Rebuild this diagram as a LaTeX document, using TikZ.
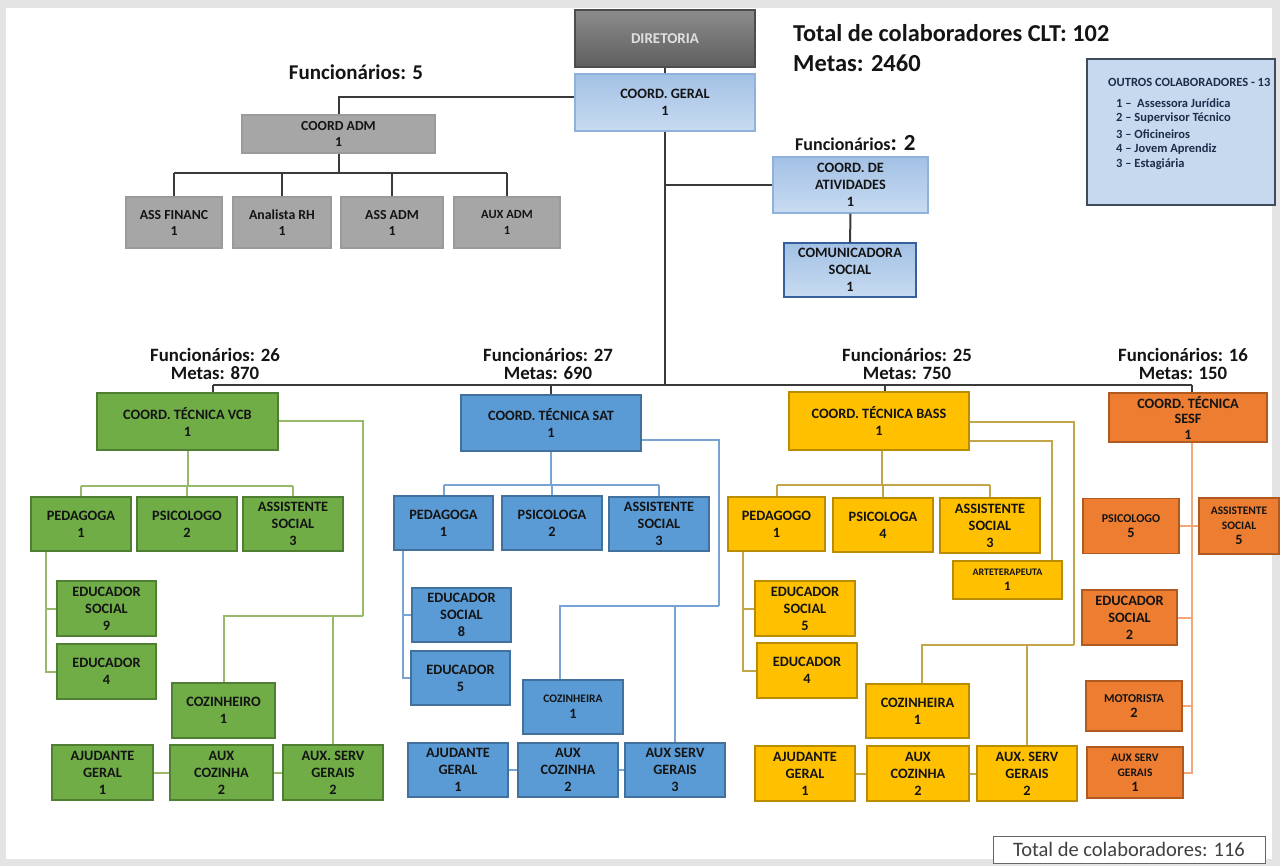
\documentclass[tikz,border=0pt]{standalone}
\usepackage{fontspec}
\setmainfont{Carlito}
\usetikzlibrary{calc}
\definecolor{bgout}{HTML}{E4E4E4}
\definecolor{grnf}{HTML}{70AD47}\definecolor{grnd}{HTML}{507E32}
\definecolor{bluf}{HTML}{5B9BD5}\definecolor{blud}{HTML}{41719C}
\definecolor{yelf}{HTML}{FFC000}\definecolor{yeld}{HTML}{BC8C00}
\definecolor{orgf}{HTML}{ED7D31}\definecolor{orgd}{HTML}{AE5A21}
\definecolor{gryf}{HTML}{A6A6A6}\definecolor{gryd}{HTML}{9A9A9A}
\definecolor{lbt}{HTML}{A3C1E5}\definecolor{lbb}{HTML}{C8DBF1}
\definecolor{lbd}{HTML}{8FB1DB}\definecolor{comd}{HTML}{35609C}
\definecolor{dirt}{HTML}{8C8C8C}\definecolor{dirb}{HTML}{5E5E5E}\definecolor{dird}{HTML}{4D4D4D}
\definecolor{outf}{HTML}{C6D9EF}\definecolor{outd}{HTML}{3F4A5C}
\definecolor{tx}{HTML}{141414}
\definecolor{kl}{HTML}{3A3A3A}
\definecolor{gl}{HTML}{98B86A}\definecolor{bl}{HTML}{78A4D4}
\definecolor{yl}{HTML}{C4A64A}\definecolor{ol}{HTML}{F2A77A}
\definecolor{navy}{HTML}{1F2D4A}
\tikzset{
  box/.style 2 args={minimum width=#1pt, minimum height=#2pt, inner sep=0pt, align=center,
    line width=1.2pt, text=tx, font=\bfseries\fontsize{14.3}{17}\selectfont},
  grn/.style={draw=grnd, fill=grnf},
  blu/.style={draw=blud, fill=bluf},
  yel/.style={draw=yeld, fill=yelf},
  org/.style={draw=orgd, fill=orgf},
  gry/.style={draw=gryd, fill=gryf, font=\bfseries\fontsize{13.8}{16}\selectfont},
  lblue/.style={draw=lbd, top color=lbt, bottom color=lbb},
  sm/.style={font=\bfseries\fontsize{12}{15}\selectfont},
  hdr/.style={inner sep=0pt, align=center, text=tx, font=\bfseries\fontsize{18.8}{18}\selectfont},
  kline/.style={draw=kl, line width=2pt},
  gline/.style={draw=gl, line width=2pt},
  bline/.style={draw=bl, line width=2pt},
  yline/.style={draw=yl, line width=2pt},
  oline/.style={draw=ol, line width=2pt},
  otxt/.style={inner sep=0pt, anchor=west, text=navy, font=\bfseries\fontsize{12.5}{14}\selectfont}
}
\begin{document}
\begin{tikzpicture}[x=1pt,y=-1pt]
\useasboundingbox (0,0) rectangle (1280,866);
\fill[bgout] (0,0) rectangle (1280,866);
\fill[white] (6,8) rectangle (1272,859);

% ---------- top ----------
\node[box={180}{57}, draw=dird, top color=dirt, bottom color=dirb, text=white!88!black, font=\bfseries\fontsize{15}{17}\selectfont] (dir) at (665,38.5) {DIRETORIA};
\node[box={180}{57}, lblue] (geral) at (665,102.5) {COORD. GERAL\\1};
\node[box={193}{38}, gry] (adm) at (338.5,134) {COORD ADM\\1};
\node[box={96}{51}, gry] (fin) at (174,222.5) {ASS FINANC\\1};
\node[box={98}{51}, gry] (rh) at (282,222.5) {Analista RH\\1};
\node[box={102}{51}, gry] (assadm) at (392,222.5) {ASS ADM\\1};
\node[box={106}{51}, gry, font=\bfseries\fontsize{12.5}{16}\selectfont] (auxadm) at (507,222.5) {AUX ADM\\1};
\node[box={155}{56}, lblue] (ativ) at (850.5,185) {COORD. DE\\ATIVIDADES\\1};
\node[box={132}{54}, draw=comd, top color=lbt, bottom color=lbb] (comm) at (850,270) {COMUNICADORA\\SOCIAL\\1};

\node[inner sep=0pt, text=tx, font=\bfseries\fontsize{21}{21}\selectfont] (f5) at (356,72) {Funcionários: 5};
\node[inner sep=0pt, anchor=west, text=tx, font=\bfseries\fontsize{24.3}{24}\selectfont] (clt) at (793,33) {Total de colaboradores CLT: 102};
\node[inner sep=0pt, anchor=west, text=tx, font=\bfseries\fontsize{24.5}{24}\selectfont] (metas) at (793,63) {Metas: 2460};
\node[inner sep=0pt, anchor=west, text=tx, font=\bfseries\fontsize{18}{18}\selectfont] (f2) at (795,143) {Funcionários{\fontsize{23}{23}\selectfont: 2}};

\node[box={188}{146}, draw=outd, fill=outf, line width=1.4pt] (outros) at (1181,132) {};
\node[otxt] (ot0) at (1108,82) {OUTROS COLABORADORES - 13};
\node[otxt] (ot1) at (1116,103) {1 –\ \ Assessora Jurídica};
\node[otxt] (ot2) at (1116,118) {2 – Supervisor Técnico};
\node[otxt] (ot3) at (1116,134) {3 – Oficineiros};
\node[otxt] (ot4) at (1116,149) {4 – Jovem Aprendiz};
\node[otxt] (ot5) at (1116,164) {3 – Estagiária};

\node[box={272}{27}, draw=black!60, fill=white, line width=1pt, text=black!75, font=\fontsize{20.5}{22}\selectfont] (tot) at (1129,849.5) {Total de colaboradores: 116};

% ---------- headers ----------
\node[hdr] (h1) at (215,364) {Funcionários: 26\\Metas: 870};
\node[hdr] (h2) at (548,364) {Funcionários: 27\\Metas: 690};
\node[hdr] (h3) at (907,364) {Funcionários: 25\\Metas: 750};
\node[hdr] (h4) at (1183,364) {Funcionários: 16\\Metas: 150};

% ---------- green ----------
\node[box={181}{57}, grn] (vcb) at (187.5,421.5) {COORD. TÉCNICA VCB\\1};
\node[box={100}{54}, grn] (gped) at (81,524) {PEDAGOGA\\1};
\node[box={100}{54}, grn] (gpsi) at (187,524) {PSICOLOGO\\2};
\node[box={100}{54}, grn] (gass) at (293,524) {ASSISTENTE\\SOCIAL\\3};
\node[box={99}{55}, grn] (gedus) at (106.5,608.5) {EDUCADOR\\SOCIAL\\9};
\node[box={99}{55}, grn] (gedu) at (106.5,671.5) {EDUCADOR\\4};
\node[box={103}{55}, grn] (gcoz) at (223.5,710.5) {COZINHEIRO\\1};
\node[box={101}{55}, grn] (gaju) at (102.5,772.5) {AJUDANTE\\GERAL\\1};
\node[box={103}{55}, grn] (gauxc) at (221.5,772.5) {AUX\\COZINHA\\2};
\node[box={100}{55}, grn] (gserv) at (333,772.5) {AUX. SERV\\GERAIS\\2};

% ---------- blue ----------
\node[box={180}{56}, blu] (sat) at (551,423) {COORD. TÉCNICA SAT\\1};
\node[box={99}{54}, blu] (bped) at (443.5,523) {PEDAGOGA\\1};
\node[box={100}{54}, blu] (bpsi) at (552,523) {PSICOLOGA\\2};
\node[box={100}{54}, blu] (bass) at (659,524) {ASSISTENTE\\SOCIAL\\3};
\node[box={99}{54}, blu] (bedus) at (461.5,615) {EDUCADOR\\SOCIAL\\8};
\node[box={99}{54}, blu] (bedu) at (460.5,678) {EDUCADOR\\5};
\node[box={100}{54}, blu, font=\bfseries\fontsize{11.5}{16}\selectfont] (bcoz) at (573,707) {COZINHEIRA\\\fontsize{14.3}{16}\selectfont 1};
\node[box={100}{54}, blu] (baju) at (458,770) {AJUDANTE\\GERAL\\1};
\node[box={100}{54}, blu] (bauxc) at (568,770) {AUX\\COZINHA\\2};
\node[box={100}{54}, blu] (bserv) at (675,770) {AUX SERV\\GERAIS\\3};

% ---------- yellow ----------
\node[box={180}{58}, yel] (ybass) at (879,421) {COORD. TÉCNICA BASS\\1};
\node[box={97}{54}, yel] (yped) at (776.5,524) {PEDAGOGO\\1};
\node[box={100}{54}, yel] (ypsi) at (883,525) {PSICOLOGA\\4};
\node[box={100}{55}, yel] (yass) at (990,525.5) {ASSISTENTE\\SOCIAL\\3};
\node[box={109}{38}, yel, font=\bfseries\fontsize{10}{15}\selectfont] (yart) at (1007.5,580) {ARTETERAPEUTA\\\fontsize{13}{15}\selectfont 1};
\node[box={100}{55}, yel] (yedus) at (805,608.5) {EDUCADOR\\SOCIAL\\5};
\node[box={100}{55}, yel] (yedu) at (807,670.5) {EDUCADOR\\4};
\node[box={103}{54}, yel] (ycoz) at (917.5,711) {COZINHEIRA\\1};
\node[box={100}{55}, yel] (yaju) at (805,773.5) {AJUDANTE\\GERAL\\1};
\node[box={102}{55}, yel] (yauxc) at (918,773.5) {AUX\\COZINHA\\2};
\node[box={100}{55}, yel] (yserv) at (1027,773.5) {AUX. SERV\\GERAIS\\2};

% ---------- orange ----------
\node[box={158}{49}, org, font=\bfseries\fontsize{14.3}{15.5}\selectfont] (sesf) at (1188,417.5) {COORD. TÉCNICA\\SESF\\1};
\node[box={96}{55}, org, sm] (opsi) at (1131,526) {PSICOLOGO\\\fontsize{14.3}{16}\selectfont 5};
\node[box={80}{56}, org, font=\bfseries\fontsize{11.5}{15}\selectfont] (oass) at (1239,526) {ASSISTENTE\\SOCIAL\\\fontsize{14.3}{15}\selectfont 5};
\node[box={95}{55}, org] (oedus) at (1129.5,617.5) {EDUCADOR\\SOCIAL\\2};
\node[box={96}{50}, org, sm] (omot) at (1134,706) {MOTORISTA\\\fontsize{14.3}{16}\selectfont 2};
\node[box={96}{51}, org, font=\bfseries\fontsize{11.5}{15}\selectfont] (oserv) at (1135,772.5) {AUX SERV\\GERAIS\\\fontsize{14.3}{15}\selectfont 1};

% ---------- top connectors ----------
\coordinate (busy) at (0,385);
\draw[kline] (dir) -- (geral);
\draw[kline] ([yshift=5.5pt]geral.west) -| (adm.north);
\draw[kline] (adm.south) -- ++(0,19) coordinate (admbus);
\draw[kline] (fin.north |- admbus) -- (auxadm.north |- admbus);
\foreach \n in {fin,rh,assadm,auxadm} \draw[kline] (\n.north) -- (\n.north |- admbus);
\draw[kline] (geral.south) -- (geral.south |- busy);
\draw[kline] (ativ.west) -- (ativ.west -| geral.south);
\draw[kline] (ativ) -- (comm);
\path ([xshift=25.5pt]vcb.north) coordinate (vt);
\path ([xshift=4pt]sesf.north) coordinate (st);
\path ([xshift=6pt]ybass.north) coordinate (yt);
\draw[kline] (vt |- busy) -- (st |- busy);
\draw[kline] (vt) -- (vt |- busy);
\draw[kline] (sat.north) -- (sat.north |- busy);
\draw[kline] (yt) -- (yt |- busy);
\draw[kline] (st) -- (st |- busy);

% ---------- green connectors ----------
\coordinate (gby) at (0,486);
\draw[gline] (vcb.south) -- (vcb.south |- gby);
\draw[gline] (gped.north |- gby) -- (gass.north |- gby);
\foreach \n in {gped,gpsi,gass} \draw[gline] (\n.north) -- (\n.north |- gby);
\draw[gline] ([xshift=-35pt]gped.south) |- (gedu.west);
\draw[gline] ([xshift=-35pt]gped.south) |- (gedus.west);
\coordinate (gr) at (363,616);
\draw[gline] (vcb.east) -| (gr);
\draw[gline] (gcoz.north) |- (gr);
\draw[gline] (gserv.north) -- (gserv.north |- gr);
\draw[gline] (gaju) -- (gauxc);
\draw[gline] (gauxc) -- (gserv);

% ---------- blue connectors ----------
\coordinate (bby) at (0,485);
\draw[bline] (sat.south) -- (sat.south |- bby);
\draw[bline] (bped.north |- bby) -- (bass.north |- bby);
\foreach \n in {bped,bpsi,bass} \draw[bline] (\n.north) -- (\n.north |- bby);
\draw[bline] ([xshift=-40.5pt]bped.south) |- (bedu.west);
\draw[bline] ([xshift=-40.5pt]bped.south) |- (bedus.west);
\coordinate (br) at (719,606);
\draw[bline] ([yshift=-17pt]sat.east) -| (br);
\draw[bline] ([xshift=-13pt]bcoz.north) |- (br);
\draw[bline] (bserv.north) -- (bserv.north |- br);
\draw[bline] (baju) -- (bauxc);
\draw[bline] (bauxc) -- (bserv);

% ---------- yellow connectors ----------
\coordinate (yby) at (0,485);
\draw[yline] ([xshift=3pt]ybass.south) -- ([xshift=3pt]ybass.south |- yby);
\draw[yline] (yped.north |- yby) -- (yass.north |- yby);
\foreach \n in {yped,ypsi,yass} \draw[yline] (\n.north) -- (\n.north |- yby);
\draw[yline] ([xshift=-33.5pt]yped.south) |- (yedu.west);
\draw[yline] ([xshift=-33.5pt]yped.south) |- (yedus.west);
\coordinate (yr) at (1074,645);
\draw[yline] ([yshift=-1pt]ybass.east) -| (yr);
\draw[yline] ([xshift=4.5pt]ycoz.north) |- (yr);
\draw[yline] (yserv.north) -- (yserv.north |- yr);
\draw[yline] ([yshift=-20pt]ybass.east) -| ([xshift=44.5pt]yart.north);
\draw[yline] (yaju) -- (yauxc);
\draw[yline] (yauxc) -- (yserv);

% ---------- orange connectors ----------
\path ([xshift=4pt]sesf.south) coordinate (ob);
\draw[oline] (ob) -- (ob |- oserv.east) -- (oserv.east);
\draw[oline] (opsi) -- (oass);
\draw[oline] (oedus.east) -- (oedus.east -| ob);
\draw[oline] (omot.east) -- (omot.east -| ob);
\end{tikzpicture}
\end{document}
